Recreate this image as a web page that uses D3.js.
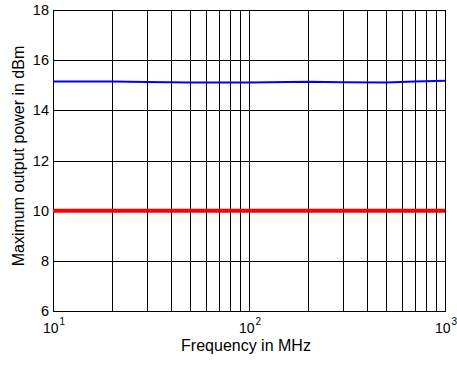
<!DOCTYPE html>
<html lang="en">
<head>
<meta charset="UTF-8">
<title>power</title>
<script src="https://cdn.jsdelivr.net/npm/d3@7"></script>
<style>
  body { margin: 0; background: #fff; }
  text { font-family: "Liberation Sans", Arial, sans-serif; fill: #000; }
</style>
</head>
<body>
<script>
// data
let freq = [10, 20, 30, 50, 100, 200, 300, 500, 700, 1000];
let power = [15.15, 15.15, 15.13, 15.11, 15.11, 15.14, 15.12, 15.11, 15.15, 15.18];
let limit = [10, 10];
let limitFreq = [10, 1000];
let yTicks = [6, 8, 10, 12, 14, 16, 18];
let xTicks = [10, 100, 1000];

let width = 457, height = 365;
let pLeft = 53, pRight = 445, pTop = 10, pBottom = 311;

let svg = d3.select("body").append("svg")
    .attr("width", width)
    .attr("height", height);

let x = d3.scaleLog().domain([10, 1000]).range([pLeft, pRight]);
let y = d3.scaleLinear().domain([6, 18]).range([pBottom, pTop]);

// minor grid positions for log axis
let gridX = [];
for (let d = 10; d < 1000; d *= 10) {
    for (let m = 1; m <= 9; m++) gridX.push(d * m);
}
gridX.push(1000);

let grid = svg.append("g").attr("shape-rendering", "crispEdges");
grid.selectAll("line.gx").data(gridX).enter().append("line")
    .attr("x1", d => Math.round(x(d)) + 0.5).attr("x2", d => Math.round(x(d)) + 0.5)
    .attr("y1", pTop).attr("y2", pBottom)
    .attr("stroke", "#000").attr("stroke-width", 1);
grid.selectAll("line.gy").data(yTicks).enter().append("line")
    .attr("x1", pLeft).attr("x2", pRight)
    .attr("y1", d => Math.round(y(d)) + 0.5).attr("y2", d => Math.round(y(d)) + 0.5)
    .attr("stroke", "#000").attr("stroke-width", 1);

// box
svg.append("rect")
    .attr("x", pLeft + 0.5).attr("y", pTop + 0.5)
    .attr("width", pRight - pLeft).attr("height", pBottom - pTop)
    .attr("fill", "none").attr("stroke", "#000").attr("stroke-width", 1)
    .attr("shape-rendering", "crispEdges");

// y axis labels
let yAxis = d3.axisLeft(y).tickValues(yTicks).tickSize(0).tickPadding(4);
svg.append("g")
    .attr("transform", "translate(" + pLeft + ",0)")
    .call(yAxis)
    .call(g => g.select(".domain").remove())
    .selectAll("text")
    .attr("font-size", "14.5px")
    .attr("font-family", "Liberation Sans, Arial, sans-serif");

// x axis labels, 10^n
let xl = svg.append("g");
xTicks.forEach(function (t) {
    let e = Math.round(Math.log10(t));
    let tx = xl.append("text")
        .attr("x", x(t) + 1)
        .attr("y", pBottom + 22)
        .attr("text-anchor", "middle")
        .attr("font-size", "14px");
    tx.append("tspan").text("10");
    tx.append("tspan").text(e)
        .attr("font-size", "10px")
        .attr("dx", "1")
        .attr("dy", "-8");
});

// lines
let line = d3.line()
    .x(d => x(d[0]))
    .y(d => y(d[1]));

svg.append("path")
    .attr("d", line(limitFreq.map((f, i) => [f, limit[i]])))
    .attr("fill", "none")
    .attr("stroke", "#ff0000")
    .attr("stroke-width", 4);

svg.append("path")
    .attr("d", line(freq.map((f, i) => [f, power[i]])))
    .attr("fill", "none")
    .attr("stroke", "#0000ff")
    .attr("stroke-width", 2);

// axis titles
svg.append("text")
    .text("Frequency in MHz")
    .attr("x", 246)
    .attr("y", 351)
    .attr("text-anchor", "middle")
    .attr("font-size", "16px");

svg.append("text")
    .text("Maximum output power in dBm")
    .attr("transform", "translate(24,156) rotate(-90)")
    .attr("text-anchor", "middle")
    .attr("font-size", "16px");
</script>
</body>
</html>
